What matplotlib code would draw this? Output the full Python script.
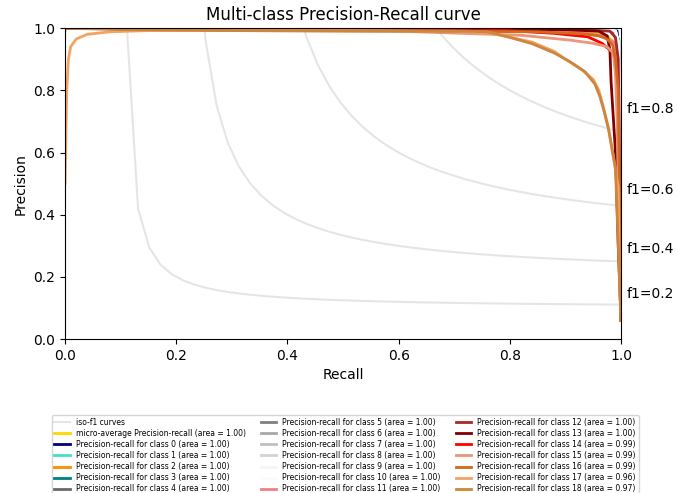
import matplotlib
matplotlib.use("Agg")
import matplotlib.pyplot as plt
import numpy as np

# iso-f1 reference levels
f_scores = [0.2, 0.4, 0.6, 0.8]

# micro-average curve
micro_recall = [0.0, 0.0, 0.005, 0.3, 0.7, 0.9, 0.95, 0.975, 0.99, 0.995, 1.0]
micro_precision = [0.99, 1.0, 1.0, 0.999, 0.998, 0.995, 0.988, 0.975, 0.95, 0.85, 0.06]
micro_area = 1.00

class_colors = ['navy', 'turquoise', 'darkorange', 'teal', 'dimgray', 'gray',
                'darkgray', 'silver', 'lightgray', 'whitesmoke', 'snow',
                'lightcoral', 'brown', 'maroon', 'red', 'darksalmon',
                'chocolate', 'sandybrown', 'peru']
class_areas = [1.00, 1.00, 1.00, 1.00, 1.00, 1.00, 1.00, 1.00, 1.00, 1.00,
               1.00, 1.00, 1.00, 1.00, 0.99, 0.99, 0.99, 0.96, 0.97]

class_recall = [
    [0.0, 0.985, 0.993, 0.997, 1.0],
    [0.0, 0.99, 0.992, 0.994, 0.995, 0.997, 1.0],
    [0.0, 0.97, 0.985, 0.995, 1.0],
    [0.0, 0.975, 0.99, 0.996, 1.0],
    [0.0, 0.98, 0.99, 0.996, 1.0],
    [0.0, 0.97, 0.985, 0.995, 1.0],
    [0.0, 0.98, 0.99, 0.996, 1.0],
    [0.0, 0.98, 0.99, 0.996, 1.0],
    [0.0, 0.98, 0.99, 0.996, 1.0],
    [0.0, 0.98, 0.99, 0.996, 1.0],
    [0.0, 0.98, 0.99, 0.996, 1.0],
    [0.0, 0.3, 0.5, 0.7, 0.85, 0.93, 0.97, 0.99, 0.996, 1.0],
    [0.0, 0.9, 0.98, 0.99, 0.995, 1.0],
    [0.0, 0.5, 0.9, 0.96, 0.975, 0.98, 0.982, 0.99, 0.995, 1.0],
    [0.0, 0.22, 0.22, 0.5, 0.78, 0.88, 0.94, 0.966, 0.986, 0.993, 0.996, 1.0],
    [0.0, 0.3, 0.6, 0.82, 0.91, 0.95, 0.975, 0.986, 0.99, 0.993, 0.996, 1.0],
    [0.0, 0.4, 0.7, 0.85, 0.93, 0.96, 0.975, 0.985, 0.99, 0.995, 1.0],
    [0.0, 0.003, 0.006, 0.01, 0.02, 0.04, 0.08, 0.15, 0.3, 0.5, 0.65, 0.7,
     0.76, 0.79, 0.84, 0.88, 0.9, 0.93, 0.95, 0.96, 0.968, 0.977, 0.983,
     0.989, 0.995, 0.997, 1.0],
    [0.0, 0.1, 0.3, 0.5, 0.65, 0.72, 0.76, 0.8, 0.84, 0.88, 0.91, 0.935,
     0.953, 0.962, 0.97, 0.978, 0.985, 0.99, 0.995, 1.0],
]
class_precision = [
    [1.0, 1.0, 0.99, 0.9, 0.06],
    [1.0, 1.0, 0.95, 0.81, 0.55, 0.3, 0.06],
    [1.0, 0.998, 0.99, 0.95, 0.06],
    [1.0, 0.999, 0.99, 0.96, 0.06],
    [1.0, 1.0, 0.992, 0.95, 0.06],
    [1.0, 1.0, 0.99, 0.95, 0.06],
    [1.0, 1.0, 0.99, 0.95, 0.06],
    [1.0, 1.0, 0.99, 0.95, 0.06],
    [1.0, 1.0, 0.99, 0.95, 0.06],
    [1.0, 1.0, 0.99, 0.95, 0.06],
    [1.0, 1.0, 0.99, 0.95, 0.06],
    [1.0, 0.996, 0.994, 0.992, 0.99, 0.985, 0.975, 0.95, 0.8, 0.06],
    [1.0, 0.998, 0.99, 0.97, 0.9, 0.07],
    [1.0, 0.998, 0.995, 0.99, 0.975, 0.93, 0.83, 0.6, 0.3, 0.06],
    [1.0, 1.0, 0.993, 0.994, 0.994, 0.983, 0.972, 0.951, 0.92, 0.865, 0.5, 0.06],
    [1.0, 0.995, 0.99, 0.977, 0.961, 0.951, 0.94, 0.92, 0.85, 0.7, 0.4, 0.07],
    [1.0, 0.995, 0.99, 0.988, 0.982, 0.975, 0.965, 0.945, 0.9, 0.8, 0.07],
    [0.5, 0.8, 0.9, 0.94, 0.965, 0.98, 0.988, 0.992, 0.992, 0.992, 0.99, 0.99,
     0.985, 0.975, 0.955, 0.925, 0.9, 0.865, 0.835, 0.8, 0.747, 0.683, 0.618,
     0.554, 0.49, 0.2, 0.06],
    [1.0, 0.995, 0.992, 0.99, 0.99, 0.99, 0.988, 0.97, 0.95, 0.92, 0.89,
     0.86, 0.82, 0.78, 0.73, 0.67, 0.6, 0.55, 0.3, 0.06],
]

fig = plt.figure(figsize=(6.78, 4.93), dpi=100)
ax = fig.add_axes([0.096, 0.312, 0.82, 0.631])

lines = []
labels = []
for f_score in f_scores:
    x = np.linspace(0.01, 1)
    y = f_score * x / (2 * x - f_score)
    l, = ax.plot(x[y >= 0], y[y >= 0], color='gray', alpha=0.2)
    ax.annotate('f1={0:0.1f}'.format(f_score), xy=(1.01, y[45] + 0.02),
                annotation_clip=False)
lines.append(l)
labels.append('iso-f1 curves')

l, = ax.plot(micro_recall, micro_precision, color='gold', lw=2)
lines.append(l)
labels.append('micro-average Precision-recall (area = {0:0.2f})'.format(micro_area))

for i in range(len(class_colors)):
    l, = ax.plot(class_recall[i], class_precision[i], color=class_colors[i], lw=2)
    lines.append(l)
    labels.append('Precision-recall for class {0} (area = {1:0.2f})'.format(i, class_areas[i]))

ax.set_xlim([0.0, 1.0])
ax.set_ylim([0.0, 1.0])
ax.set_xlabel('Recall')
ax.set_ylabel('Precision')
ax.set_title('Multi-class Precision-Recall curve')
fig.legend(lines, labels, loc='upper center', bbox_to_anchor=(0.509, 0.166),
           ncol=3, fontsize=5.5, labelspacing=0.28, borderpad=0.35)
fig.savefig('out.png', dpi=100)
